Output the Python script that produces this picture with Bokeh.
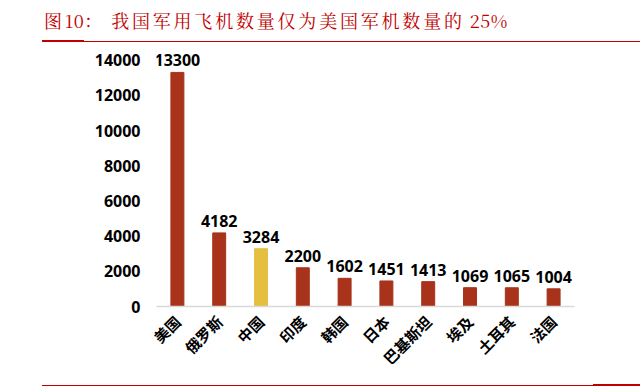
import math
from bokeh.plotting import figure
from bokeh.models import ColumnDataSource, FactorRange, Range1d, FixedTicker, Div
from bokeh.layouts import column
from bokeh.core.properties import value
from bokeh.embed import file_html
from bokeh.resources import INLINE

countries = ["美国", "俄罗斯", "中国", "印度", "韩国", "日本", "巴基斯坦", "埃及", "土耳其", "法国"]
aircraft = [13300, 4182, 3284, 2200, 1602, 1451, 1413, 1069, 1065, 1004]
bar_colors = ["#A8321A", "#A8321A", "#E5C040", "#A8321A", "#A8321A", "#A8321A",
              "#A8321A", "#A8321A", "#A8321A", "#A8321A"]
y_ticks = [0, 2000, 4000, 6000, 8000, 10000, 12000, 14000]
title_parts = ["图", "10", "：", "我国军用飞机数量仅为美国军机数量的", "25%"]

RED = "#C00000"

src = ColumnDataSource(dict(x=countries, top=aircraft, color=bar_colors,
                            label=[str(v) for v in aircraft]))

cjk = 'letter-spacing:2.8px;'
num = 'letter-spacing:0.5px;'
title_html = (
    f'<span style="{cjk}">{title_parts[0]}</span>'
    f'<span style="{num}">{title_parts[1]}</span>'
    f'<span style="{cjk}">{title_parts[2]}</span>'
    f'<span style="{cjk}margin-left:6px;">{title_parts[3]}</span>'
    f'<span style="{num}margin-left:5px;">{title_parts[4]}</span>'
)

title_div = Div(
    text=(
        '<div style="position:relative;width:640px;height:42px;">'
        '<div style="position:absolute;left:44px;top:8px;white-space:nowrap;'
        "font-family:'Noto Serif CJK SC','Noto Sans CJK SC',serif;font-size:18px;line-height:24px;"
        f'color:{RED};">{title_html}</div>'
        f'<div style="position:absolute;left:42px;top:41px;width:598px;height:1px;background:{RED};"></div>'
        f'<div style="position:absolute;left:42px;top:40px;width:42px;height:2px;background:{RED};"></div>'
        '</div>'
    ),
    width=640, height=42, margin=0,
)

p = figure(
    x_range=FactorRange(*countries, range_padding=0),
    y_range=Range1d(0, 15000),
    width=640, height=336,
    min_border_left=156, min_border_right=66, min_border_top=0, min_border_bottom=72,
    output_backend="svg", toolbar_location=None,
)
p.vbar(x="x", top="top", width=0.31, color="color", source=src)
p.text(x="x", y="top", text="label", source=src,
       text_align="center", text_baseline="bottom", y_offset=-6,
       text_font=value("Open Sans"), text_font_style="bold",
       text_font_size="16px", text_color="#000000")

p.xgrid.grid_line_color = None
p.ygrid.grid_line_color = None
p.outline_line_color = None
p.background_fill_color = "white"
p.border_fill_color = "white"

p.yaxis.ticker = FixedTicker(ticks=y_ticks)
p.yaxis.axis_line_color = None
p.yaxis.major_tick_line_color = None
p.yaxis.minor_tick_line_color = None
p.yaxis.major_label_standoff = 10
p.yaxis.major_label_text_font = "Open Sans"
p.yaxis.major_label_text_font_style = "bold"
p.yaxis.major_label_text_font_size = "16px"
p.yaxis.major_label_text_color = "#000000"

p.xaxis.axis_line_color = "#D9D9D9"
p.xaxis.axis_line_width = 1.5
p.xaxis.major_tick_line_color = None
p.xaxis.minor_tick_line_color = None
p.xaxis.major_label_orientation = math.pi / 4
p.xaxis.major_label_standoff = 6
p.xaxis.major_label_text_font = "Noto Sans CJK SC"
p.xaxis.major_label_text_font_style = "bold"
p.xaxis.major_label_text_font_size = "15px"
p.xaxis.major_label_text_color = "#000000"

bottom_div = Div(
    text=(
        '<div style="position:relative;width:640px;height:8px;">'
        f'<div style="position:absolute;left:42px;top:3px;width:598px;height:1px;background:{RED};"></div>'
        f'<div style="position:absolute;left:593px;top:2px;width:47px;height:2px;background:{RED};"></div>'
        '</div>'
    ),
    width=640, height=8, margin=0,
)

layout = column(title_div, p, bottom_div, spacing=0)
open("out.html", "w").write(file_html(layout, INLINE))
